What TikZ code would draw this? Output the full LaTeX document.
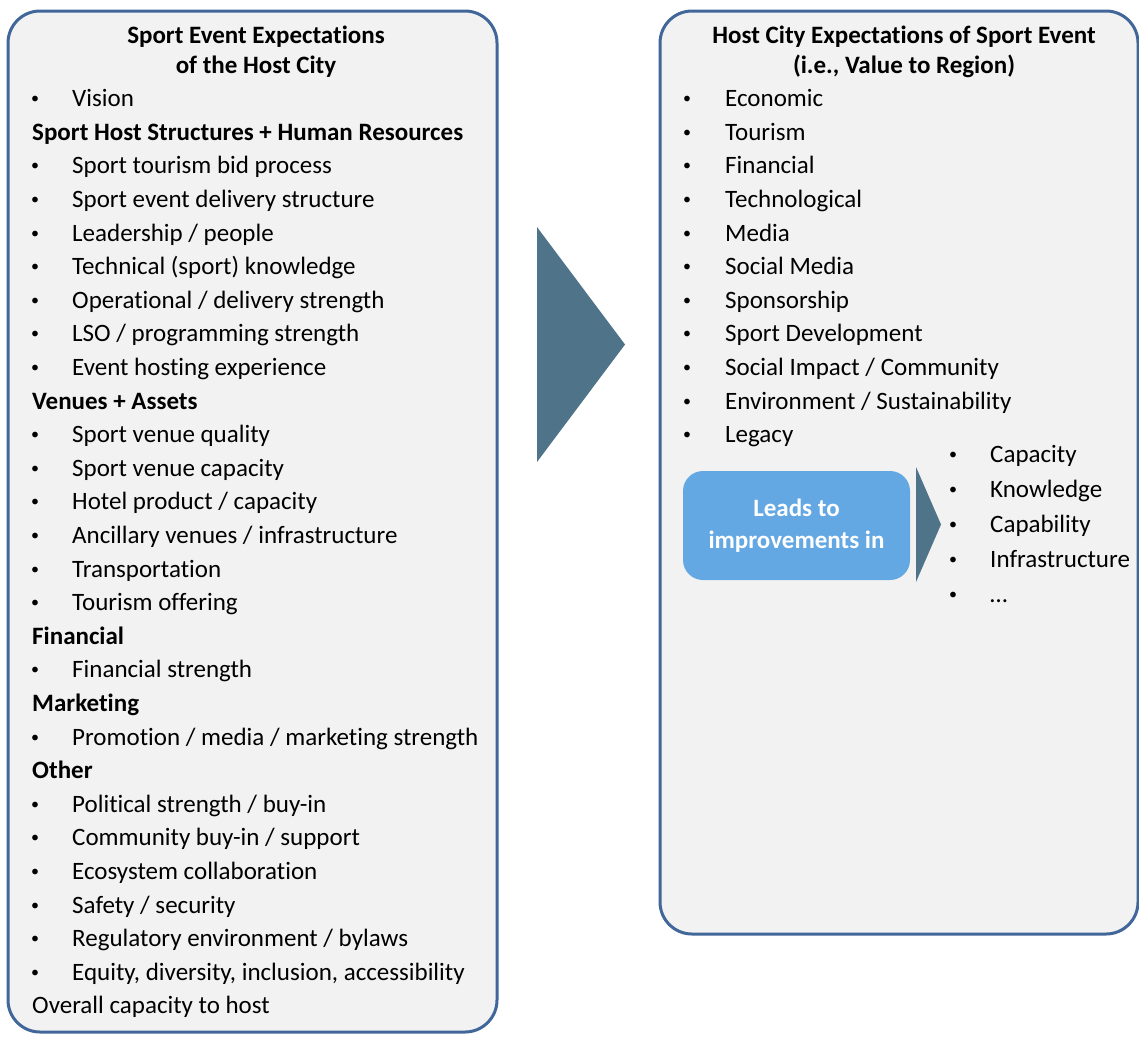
\documentclass[tikz,border=0pt]{standalone}
\usepackage{fontspec}
\setmainfont[Ligatures=NoCommon]{Carlito}
\definecolor{boxfill}{HTML}{F2F2F2}
\definecolor{boxline}{HTML}{41679A}
\definecolor{arrowfill}{HTML}{4F7489}
\definecolor{leadsfill}{HTML}{63A7E3}

\begin{document}
\begin{tikzpicture}[x=1pt,y=-1pt,
    every node/.style={font=\fontsize{25}{30}\selectfont, inner sep=0pt},
    frame/.style={draw=boxline, line width=3pt, fill=boxfill, rounded corners=32pt},
    txt/.style={anchor=base west},
    head/.style={anchor=base west, font=\fontsize{25}{30}\selectfont\bfseries},
    ttl/.style={anchor=base, font=\fontsize{25}{30}\selectfont\bfseries},
    dot/.style={anchor=base, font=\fontsize{16}{16}\selectfont}]
\useasboundingbox (0,0) rectangle (1139,1036);
% two frames
\node[frame, minimum width=489pt, minimum height=1021pt] (lbox) at (252.5,521.5) {};
\node[frame, minimum width=478pt, minimum height=923pt] (rbox) at (899,472.5) {};
\fill[arrowfill] (537,227) -- (625,344.5) -- (537,462) -- cycle;

% left list
\node[ttl] (ltitA) at (256,43) {Sport Event Expectations};
\node[ttl] (ltitB) at (256,73) {of the Host City};
\foreach \k in {0,2,3,...,8,10,11,...,15,17,19,21,22,...,26}
    \node[dot] (lb\k) at (35,{103.6+33.6*\k}) {\textbullet};
\node[txt] (vision) at (72,106.6) {Vision};
\node[head] (hstruct) at (32,140.2) {Sport Host Structures + Human Resources};
\node[txt] (bid) at (72,173.8) {Sport tourism bid process};
\node[txt] (delivery) at (72,207.4) {Sport event delivery structure};
\node[txt] (leader) at (72,241.0) {Leadership / people};
\node[txt] (technical) at (72,274.6) {Technical (sport) knowledge};
\node[txt] (operational) at (72,308.2) {Operational / delivery strength};
\node[txt] (lso) at (72,341.8) {LSO / programming strength};
\node[txt] (hosting) at (72,375.4) {Event hosting experience};
\node[head] (hvenues) at (32,409.0) {Venues + Assets};
\node[txt] (quality) at (72,442.6) {Sport venue quality};
\node[txt] (vcapacity) at (72,476.2) {Sport venue capacity};
\node[txt] (hotel) at (72,509.8) {Hotel product / capacity};
\node[txt] (ancillary) at (72,543.4) {Ancillary venues / infrastructure};
\node[txt] (transport) at (72,577.0) {Transportation};
\node[txt] (offering) at (72,610.6) {Tourism offering};
\node[head] (hfinancial) at (32,644.2) {Financial};
\node[txt] (fstrength) at (72,677.8) {Financial strength};
\node[head] (hmarketing) at (32,711.4) {Marketing};
\node[txt] (promotion) at (72,745.0) {Promotion / media / marketing strength};
\node[head] (hother) at (32,778.6) {Other};
\node[txt] (political) at (72,812.2) {Political strength / buy-in};
\node[txt] (community) at (72,845.8) {Community buy-in / support};
\node[txt] (ecosystem) at (72,879.4) {Ecosystem collaboration};
\node[txt] (safety) at (72,913.0) {Safety / security};
\node[txt] (regulatory) at (72,946.6) {Regulatory environment / bylaws};
\node[txt] (equity) at (72,980.2) {Equity, diversity, inclusion, accessibility};
\node[txt] (overall) at (32,1013.8) {Overall capacity to host};

% right list
\node[ttl] (rtitA) at (904,43) {Host City Expectations of Sport Event};
\node[ttl] (rtitB) at (904,73) {(i.e., Value to Region)};
\foreach \k in {0,1,...,10}
    \node[dot] (rb\k) at (687,{103.6+33.6*\k}) {\textbullet};
\node[txt] (economic) at (725,106.6) {Economic};
\node[txt] (tourism) at (725,140.2) {Tourism};
\node[txt] (financial) at (725,173.8) {Financial};
\node[txt] (techno) at (725,207.4) {Technological};
\node[txt] (media) at (725,241.0) {Media};
\node[txt] (social) at (725,274.6) {Social Media};
\node[txt] (sponsor) at (725,308.2) {Sponsorship};
\node[txt] (develop) at (725,341.8) {Sport Development};
\node[txt] (impact) at (725,375.4) {Social Impact / Community};
\node[txt] (environ) at (725,409.0) {Environment / Sustainability};
\node[txt] (legacy) at (725,442.6) {Legacy};

% leads to
\node[fill=leadsfill, rounded corners=20pt, minimum width=227pt, minimum height=109pt,
    align=center, text=white, font=\fontsize{25}{32}\selectfont\bfseries] (leads) at (796.5,525.5)
    {Leads to\\improvements in};
\fill[arrowfill] (916,467) -- (941,524.5) -- (916,582) -- cycle;
\foreach \k in {0,1,...,4}
    \node[dot] (sb\k) at (953,{459+35*\k}) {\textbullet};
\node[txt] (capacity) at (990,462) {Capacity};
\node[txt] (knowledge) at (990,497) {Knowledge};
\node[txt] (capability) at (990,532) {Capability};
\node[txt] (infra) at (990,567) {Infrastructure};
\node[txt] (more) at (990,602) {…};
\end{tikzpicture}
\end{document}
